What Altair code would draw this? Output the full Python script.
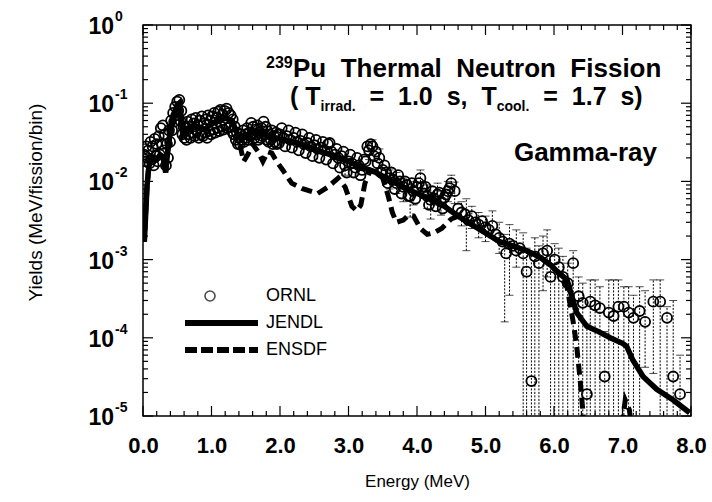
import altair as alt
import pandas as pd

W, H = 548, 391
FONT = "Liberation Sans"
NB = "\u00a0"

# ---------------- data ----------------
jendl_e = [0.00, 0.02, 0.04, 0.06, 0.08, 0.10, 0.15, 0.20, 0.25, 0.30,
           0.33, 0.36, 0.40, 0.45, 0.50, 0.53, 0.56, 0.58, 0.62, 0.70,
           0.80, 0.90, 1.00, 1.10, 1.20, 1.30, 1.38, 1.45, 1.55, 1.65,
           1.75, 1.85, 2.00, 2.20, 2.40, 2.60, 2.80, 3.00, 3.20, 3.40,
           3.60, 3.80, 4.00, 4.20, 4.40, 4.60, 4.80, 5.00, 5.20, 5.40,
           5.60, 5.80, 5.95, 6.05, 6.19, 6.33, 6.48, 6.65, 6.82, 7.00,
           7.06, 7.15, 7.30, 7.50, 7.74, 7.98]
jendl_y = [2.0e-3, 1.7e-3, 4.0e-3, 9.0e-3, 1.4e-2, 1.8e-2, 2.0e-2, 1.9e-2, 2.2e-2, 2.0e-2,
           1.3e-2, 2.4e-2, 4.5e-2, 7.0e-2, 9.5e-2, 1.0e-1, 6.0e-2, 4.0e-2, 4.5e-2, 5.0e-2,
           5.0e-2, 4.6e-2, 5.5e-2, 6.0e-2, 6.5e-2, 6.0e-2, 4.0e-2, 3.5e-2, 4.0e-2, 4.5e-2,
           4.0e-2, 3.8e-2, 3.5e-2, 3.2e-2, 2.8e-2, 2.4e-2, 2.1e-2, 1.8e-2, 1.5e-2, 1.3e-2,
           1.05e-2, 8.5e-3, 7.0e-3, 6.0e-3, 4.8e-3, 3.6e-3, 2.8e-3, 2.2e-3, 1.7e-3, 1.5e-3,
           1.3e-3, 1.07e-3, 8.5e-4, 7.0e-4, 5.5e-4, 2.1e-4, 1.4e-4, 1.2e-4, 1.0e-4, 8.5e-5,
           7.8e-5, 5.2e-5, 3.2e-5, 2.2e-5, 1.6e-5, 1.1e-5]

ensdf_e = [0.00, 0.02, 0.04, 0.06, 0.08, 0.10, 0.15, 0.20, 0.25, 0.30,
           0.33, 0.36, 0.40, 0.45, 0.50, 0.53, 0.56, 0.58, 0.62, 0.70,
           0.80, 0.90, 1.00, 1.10, 1.20, 1.30, 1.38, 1.42, 1.47, 1.53,
           1.60, 1.68, 1.75, 1.82, 1.88, 1.95, 2.04, 2.17, 2.34, 2.55,
           2.70, 2.85, 2.95, 3.05, 3.12, 3.18, 3.24, 3.32, 3.42, 3.50,
           3.58, 3.64, 3.70, 3.80, 3.88, 3.95, 4.05, 4.15, 4.25, 4.36,
           4.50, 4.60, 4.80, 5.00, 5.20, 5.40, 5.60, 5.80, 5.95, 6.05,
           6.19, 6.28, 6.33, 6.38, 6.42, 6.46, 6.60, 6.90, 6.98, 7.04,
           7.10, 7.16, 7.30, 8.00]
ensdf_y = [2.0e-3, 1.7e-3, 4.0e-3, 9.0e-3, 1.4e-2, 1.8e-2, 2.0e-2, 1.9e-2, 2.2e-2, 2.0e-2,
           1.3e-2, 2.4e-2, 4.5e-2, 7.0e-2, 9.5e-2, 1.0e-1, 6.0e-2, 4.0e-2, 4.5e-2, 5.0e-2,
           5.0e-2, 4.6e-2, 5.5e-2, 6.0e-2, 6.5e-2, 6.0e-2, 4.0e-2, 2.8e-2, 1.8e-2, 2.2e-2,
           3.0e-2, 2.4e-2, 1.8e-2, 2.4e-2, 2.3e-2, 1.8e-2, 1.4e-2, 9.5e-3, 8.0e-3, 7.0e-3,
           8.5e-3, 1.1e-2, 8.5e-3, 4.8e-3, 4.2e-3, 5.0e-3, 9.5e-3, 1.4e-2, 1.3e-2, 1.1e-2,
           6.5e-3, 4.0e-3, 3.0e-3, 3.2e-3, 3.7e-3, 3.6e-3, 2.5e-3, 2.1e-3, 2.2e-3, 2.5e-3,
           3.3e-3, 3.6e-3, 2.8e-3, 2.2e-3, 1.7e-3, 1.5e-3, 1.3e-3, 1.07e-3, 8.5e-4, 7.0e-4,
           4.5e-4, 1.6e-4, 8.0e-5, 3.0e-5, 1.2e-5, 4.0e-6, 1.0e-6, 1.0e-6, 6.0e-6, 1.6e-5,
           1.2e-5, 5.0e-6, 1.0e-6, 1.0e-6]

# ORNL measured points (main set)
ornl_e = [0.02, 0.05, 0.08, 0.11, 0.14, 0.17, 0.20, 0.23, 0.26, 0.29,
          0.32, 0.35, 0.38, 0.41, 0.44, 0.47, 0.50, 0.53, 0.56, 0.59,
          0.62, 0.65, 0.68, 0.71, 0.74, 0.77, 0.80, 0.83, 0.86, 0.89,
          0.92, 0.95, 0.98, 1.01, 1.04, 1.07, 1.10, 1.13, 1.16, 1.19,
          1.22, 1.25, 1.28, 1.31, 1.34, 1.37, 1.40, 1.43, 1.46, 1.49,
          1.52, 1.55, 1.58, 1.61, 1.64, 1.67, 1.70, 1.73, 1.76, 1.79,
          1.82, 1.85, 1.88, 1.91, 1.94, 1.97,
          2.00, 2.05, 2.10, 2.15, 2.20, 2.25, 2.30, 2.35, 2.40, 2.45,
          2.50, 2.55, 2.60, 2.65, 2.70, 2.75, 2.80, 2.85, 2.90, 2.95,
          3.00, 3.05, 3.10, 3.15, 3.20, 3.25, 3.30, 3.35, 3.40, 3.45,
          3.50, 3.55, 3.60, 3.65, 3.70, 3.75, 3.80, 3.85, 3.90, 3.95,
          4.00, 4.05, 4.10, 4.15, 4.20, 4.25, 4.30, 4.35, 4.40, 4.45,
          4.50, 4.55, 4.60, 4.65, 4.70, 4.75, 4.80, 4.85, 4.90, 4.95,
          5.00, 5.05, 5.10, 5.15, 5.20, 5.25, 5.30, 5.35, 5.40, 5.45,
          5.50, 5.55, 5.60, 5.67, 5.72, 5.78, 5.84, 5.90, 5.95, 6.01,
          6.07, 6.13, 6.20, 6.28, 6.36, 6.42, 6.48, 6.53, 6.60, 6.67,
          6.74, 6.80, 6.87, 6.94, 7.02, 7.09, 7.16, 7.25, 7.33, 7.45,
          7.55, 7.65, 7.74, 7.84]
ornl_y = [0.022, 0.028, 0.025, 0.032, 0.028, 0.035, 0.030, 0.038, 0.048, 0.052,
          0.040, 0.030, 0.045, 0.060, 0.075, 0.090, 0.105, 0.110, 0.080, 0.050,
          0.048, 0.058, 0.050, 0.062, 0.055, 0.065, 0.052, 0.060, 0.068, 0.055,
          0.062, 0.070, 0.060, 0.068, 0.075, 0.065, 0.078, 0.082, 0.072, 0.080,
          0.085, 0.075, 0.070, 0.062, 0.050, 0.042, 0.036, 0.040, 0.045, 0.040,
          0.048, 0.042, 0.056, 0.050, 0.046, 0.052, 0.042, 0.048, 0.058, 0.050,
          0.044, 0.040, 0.045, 0.038, 0.042, 0.040,
          0.040, 0.036, 0.038, 0.034, 0.036, 0.032, 0.033, 0.030, 0.031, 0.028,
          0.029, 0.026, 0.027, 0.025, 0.030, 0.024, 0.022, 0.020, 0.021, 0.016,
          0.018, 0.017, 0.015, 0.016, 0.014, 0.018, 0.025, 0.028, 0.024, 0.020,
          0.014, 0.013, 0.011, 0.0105, 0.0095, 0.010, 0.0085, 0.009, 0.0065, 0.0075,
          0.0085, 0.011, 0.007, 0.0065, 0.0058, 0.006, 0.0068, 0.0055, 0.0062, 0.0075,
          0.0095, 0.0075, 0.0045, 0.0040, 0.0038, 0.0032, 0.0036, 0.0030, 0.0028, 0.0031,
          0.0026, 0.0024, 0.0027, 0.0021, 0.0019, 0.0017, 0.0012, 0.0016, 0.0015, 0.0013,
          0.0014, 0.0012, 0.0007, 0.000028, 0.0011, 0.0009, 0.0012, 0.0013, 0.0006, 0.0010,
          0.0008, 0.0006, 0.0005, 0.0009, 0.00034, 0.00028, 0.000019, 0.00029, 0.00026, 0.00024,
          0.000032, 0.00021, 0.00019, 0.00025, 0.00025, 0.00021, 0.00018, 0.00022, 0.00016, 0.00029,
          0.00029, 0.00018, 0.000032, 0.000019]

# ORNL measured points (interleaved bins, lower/upper scatter)
ornl_e2 = [0.035, 0.065, 0.095, 0.125, 0.155, 0.185, 0.215, 0.245, 0.275, 0.305,
           0.335, 0.365, 0.395, 0.425, 0.455, 0.485, 0.515, 0.545, 0.575, 0.605,
           0.635, 0.665, 0.695, 0.725, 0.755, 0.785, 0.815, 0.845, 0.875, 0.905,
           0.935, 0.965, 0.995, 1.025, 1.055, 1.085, 1.115, 1.145, 1.175, 1.205,
           1.235, 1.265, 1.295, 1.325, 1.355, 1.385, 1.415, 1.445, 1.475, 1.505,
           1.535, 1.565, 1.595, 1.625, 1.655, 1.685, 1.715, 1.745, 1.775, 1.805,
           1.835, 1.865, 1.895, 1.925, 1.955, 1.985,
           2.025, 2.075, 2.125, 2.175, 2.225, 2.275, 2.325, 2.375, 2.425, 2.475,
           2.525, 2.575, 2.625, 2.675, 2.725, 2.775, 2.825, 2.875, 2.925, 2.975,
           3.025, 3.075, 3.125, 3.175, 3.225, 3.275, 3.325, 3.375, 3.425, 3.475,
           3.525, 3.575, 3.625, 3.675, 3.725, 3.775, 3.825, 3.875, 3.925, 3.975,
           4.025, 4.075, 4.125, 4.175, 4.225, 4.275, 4.325, 4.375, 4.425, 4.475]
ornl_y2 = [0.018, 0.020, 0.017, 0.019, 0.016, 0.021, 0.018, 0.022, 0.030, 0.025,
           0.016, 0.020, 0.032, 0.045, 0.058, 0.070, 0.080, 0.060, 0.040, 0.036,
           0.034, 0.040, 0.036, 0.042, 0.038, 0.044, 0.036, 0.040, 0.038, 0.042,
           0.036, 0.044, 0.040, 0.046, 0.042, 0.048, 0.044, 0.050, 0.046, 0.052,
           0.048, 0.050, 0.044, 0.040, 0.034, 0.030, 0.030, 0.034, 0.032, 0.036,
           0.034, 0.038, 0.040, 0.036, 0.040, 0.034, 0.036, 0.038, 0.040, 0.034,
           0.032, 0.034, 0.030, 0.032, 0.030, 0.031,
           0.048, 0.028, 0.045, 0.027, 0.042, 0.025, 0.040, 0.023, 0.036, 0.021,
           0.034, 0.020, 0.032, 0.019, 0.031, 0.017, 0.026, 0.015, 0.024, 0.013,
           0.022, 0.013, 0.020, 0.012, 0.019, 0.028, 0.030, 0.021, 0.017, 0.013,
           0.016, 0.0095, 0.013, 0.008, 0.012, 0.007, 0.010, 0.0065, 0.0095, 0.006,
           0.0095, 0.0085, 0.0085, 0.005, 0.0075, 0.0048, 0.0072, 0.0045, 0.0068, 0.0082]

# ORNL error bars (lower bound 1e-7 = below the axis)
err_e = [2.95, 3.30, 3.35, 3.45, 3.60, 3.70, 3.80, 3.90, 3.95, 4.05,
         4.15, 4.20, 4.30, 4.35, 4.45, 4.50, 4.55, 4.65, 4.72, 4.80,
         4.90, 5.00, 5.10, 5.20, 5.28, 5.35, 5.45, 5.55, 5.60, 5.67,
         5.72, 5.78, 5.84, 5.90, 5.95, 6.01, 6.07, 6.13, 6.20, 6.28,
         6.36, 6.42, 6.48, 6.53, 6.60, 6.67, 6.74, 6.80, 6.87, 6.94,
         7.02, 7.09, 7.16, 7.25, 7.33, 7.45, 7.55, 7.65, 7.74, 7.84]
err_lo = [0.012, 0.019, 0.022, 0.015, 0.008, 0.007, 0.0055, 0.0035, 0.005, 0.008,
          0.0045, 0.0033, 0.005, 0.0037, 0.0055, 0.007, 0.0052, 0.0027, 0.0013, 0.0025,
          0.0019, 0.0017, 0.0019, 0.0012, 0.00016, 0.00035, 0.0008, 1e-7, 1e-7, 1e-7,
          1e-7, 1e-7, 0.0004, 0.0006, 1e-7, 1e-7, 1e-7, 1e-7, 1e-7, 1e-7,
          1e-7, 1e-7, 1e-7, 1e-7, 1e-7, 1e-7, 1e-7, 1e-7, 1e-7, 1e-7,
          1e-7, 1e-7, 1e-7, 1e-7, 4.2e-5, 3.5e-5, 1e-7, 1e-7, 1e-7, 1e-7]
err_hi = [0.021, 0.031, 0.034, 0.026, 0.014, 0.013, 0.011, 0.0095, 0.010, 0.014,
          0.009, 0.0085, 0.0095, 0.0075, 0.010, 0.012, 0.0098, 0.0055, 0.0060, 0.0048,
          0.0040, 0.0036, 0.0042, 0.0030, 0.0021, 0.0028, 0.0024, 0.0022, 0.0014, 0.0012,
          0.0019, 0.0015, 0.0020, 0.0024, 0.0011, 0.0016, 0.0014, 0.0011, 0.0009, 0.0013,
          0.0006, 0.0005, 0.00015, 0.00055, 0.00055, 0.00045, 0.00012, 0.00055, 0.00055, 0.00055,
          0.00045, 0.00045, 0.00035, 0.00045, 0.0004, 0.00055, 0.00055, 0.00025, 0.0003, 0.00006]

x_tick_labels = [0, 1, 2, 3, 4, 5, 6, 7, 8]
y_decades = [1, 1e-1, 1e-2, 1e-3, 1e-4, 1e-5]
y_exponents = ["0", "-1", "-2", "-3", "-4", "-5"]

x_minor = [i / 5 for i in range(41) if i % 5]
y_minor = [k * 10.0 ** d for d in range(-5, 0) for k in range(2, 10)]

# ---------------- scales / axes ----------------
xs = alt.Scale(domain=[0, 8], nice=False, zero=False)
ys = alt.Scale(type="log", domain=[1e-5, 1], nice=False)

xaxis = alt.Axis(values=x_tick_labels, format=".1f", labelFont=FONT, labelFontSize=22,
                 labelFontWeight="bold", labelColor="black", labelPadding=19,
                 labelFlush=False, labelOverlap=False, ticks=False, tickSize=0,
                 domain=False, grid=False, title="Energy (MeV)", titleFont=FONT,
                 titleFontSize=17, titleFontWeight="normal", titleColor="black",
                 titleY=65, titleBaseline="middle")
yaxis = alt.Axis(labels=False, ticks=False, tickSize=0, domain=False, grid=False,
                 title="Yields (MeV/fission/bin)", titleFont=FONT, titleFontSize=19,
                 titleFontWeight="normal", titleColor="black", titleX=-108, titleY=177,
                 titleAngle=270, titleAlign="center", titleBaseline="middle")

def X(f):
    return alt.X(f + ":Q", scale=xs, axis=xaxis)

def Y(f):
    return alt.Y(f + ":Q", scale=ys, axis=yaxis)

df_j = pd.DataFrame({"E": jendl_e, "Y": jendl_y})
df_s = pd.DataFrame({"E": ensdf_e, "Y": ensdf_y})
df_o = pd.DataFrame({"E": ornl_e + ornl_e2, "Y": ornl_y + ornl_y2})
df_err = pd.DataFrame({"E": err_e, "lo": err_lo, "hi": err_hi})

errbars = alt.Chart(df_err).mark_rule(color="black", strokeWidth=1, strokeDash=[2, 1.5],
                                      clip=True).encode(x=X("E"), y=Y("lo"), y2="hi:Q")
cap_hi = alt.Chart(df_err).mark_tick(color="black", orient="horizontal", size=8,
                                     thickness=1, clip=True).encode(x=X("E"), y=Y("hi"))
cap_lo = alt.Chart(df_err).mark_tick(color="black", orient="horizontal", size=8,
                                     thickness=1, clip=True).encode(x=X("E"), y=Y("lo"))

ensdf = alt.Chart(df_s).mark_line(color="black", strokeWidth=5, strokeDash=[11, 6],
                                  clip=True).encode(x=X("E"), y=Y("Y"), order="E:Q")
jendl = alt.Chart(df_j).mark_line(color="black", strokeWidth=5.5,
                                  clip=True).encode(x=X("E"), y=Y("Y"), order="E:Q")
ornl = alt.Chart(df_o).mark_point(shape="circle", filled=False, color="black", size=100,
                                  strokeWidth=1.8, opacity=1, clip=True).encode(x=X("E"), y=Y("Y"))

# tick marks on all four sides (inward)
df_xmaj = pd.DataFrame({"v": x_tick_labels})
df_xmin = pd.DataFrame({"v": x_minor})
df_ymaj = pd.DataFrame({"v": y_decades})
df_ymin = pd.DataFrame({"v": y_minor})

def xticks(df, ln):
    b = alt.Chart(df).mark_rule(color="black", strokeWidth=1.2).encode(
        x=X("v"), y=alt.value(H), y2=alt.value(H - ln))
    t = alt.Chart(df).mark_rule(color="black", strokeWidth=1.2).encode(
        x=X("v"), y=alt.value(0), y2=alt.value(ln))
    return [b, t]

def yticks(df, ln):
    l = alt.Chart(df).mark_rule(color="black", strokeWidth=1.2).encode(
        y=Y("v"), x=alt.value(0), x2=alt.value(ln))
    r = alt.Chart(df).mark_rule(color="black", strokeWidth=1.2).encode(
        y=Y("v"), x=alt.value(W), x2=alt.value(W - ln))
    return [l, r]

ticks = xticks(df_xmaj, 10) + xticks(df_xmin, 5) + yticks(df_ymaj, 10) + yticks(df_ymin, 5)

# y tick labels 10^n
df_ylab = pd.DataFrame({"v": y_decades, "base": ["10"] * 6, "exp": y_exponents})
ylab_base = alt.Chart(df_ylab).mark_text(font=FONT, fontSize=23, fontWeight="bold",
                                         align="right", baseline="middle", color="black",
                                         dy=2).encode(
    y=Y("v"), x=alt.value(-29), text="base:N")
ylab_exp = alt.Chart(df_ylab).mark_text(font=FONT, fontSize=14, fontWeight="bold",
                                        align="left", baseline="middle", color="black",
                                        dy=-8).encode(
    y=Y("v"), x=alt.value(-28), text="exp:N")

# annotations
def txt(s, x, y, size, weight="bold", align="left", baseline="alphabetic"):
    return alt.Chart(pd.DataFrame({"t": [s]})).mark_text(
        font=FONT, fontSize=size, fontWeight=weight, align=align, baseline=baseline,
        color="black", x=x, y=y).encode(text="t:N")

S2 = NB * 2
annots = [
    txt("239", 123, 43, 16),
    txt("Pu" + S2 + "Thermal" + S2 + "Neutron" + S2 + "Fission", 150, 52, 26),
    txt("(" + NB + "T", 147, 80, 25),
    txt("irrad.", 177.6, 86, 14),
    txt("=" + S2 + "1.0" + S2 + "s," + S2 + "T", 226.5, 80, 25),
    txt("cool.", 353.7, 86, 14),
    txt("=" + S2 + "1.7" + S2 + "s)", 400.3, 80, 25),
    txt("Gamma-ray", 514, 136, 26, align="right"),
    txt("ORNL", 123, 271, 18, weight="normal", baseline="middle"),
    txt("JENDL", 123, 298, 18, weight="normal", baseline="middle"),
    txt("ENSDF", 123, 325, 18, weight="normal", baseline="middle"),
]

one = pd.DataFrame({"k": [0]})
leg_circle = alt.Chart(one).mark_point(shape="circle", filled=False, color="black",
                                       size=100, strokeWidth=1.6).encode(
    x=alt.value(67), y=alt.value(271))
leg_solid = alt.Chart(one).mark_rule(color="black", strokeWidth=6).encode(
    x=alt.value(42), x2=alt.value(115), y=alt.value(298))
leg_dash = alt.Chart(one).mark_rule(color="black", strokeWidth=6, strokeDash=[12, 4]).encode(
    x=alt.value(42), x2=alt.value(115), y=alt.value(325))

chart = alt.layer(
    errbars, cap_hi, cap_lo, ensdf, jendl, ornl, *ticks, ylab_base, ylab_exp,
    leg_circle, leg_solid, leg_dash, *annots
).properties(
    width=W, height=H,
    autosize=alt.AutoSizeParams(type="none"),
    padding={"left": 143, "top": 25, "right": 21, "bottom": 86},
    background="white",
).configure_view(stroke="black", strokeWidth=1.5)

chart.save("out.html", embed_options={"renderer": "svg", "actions": False})
